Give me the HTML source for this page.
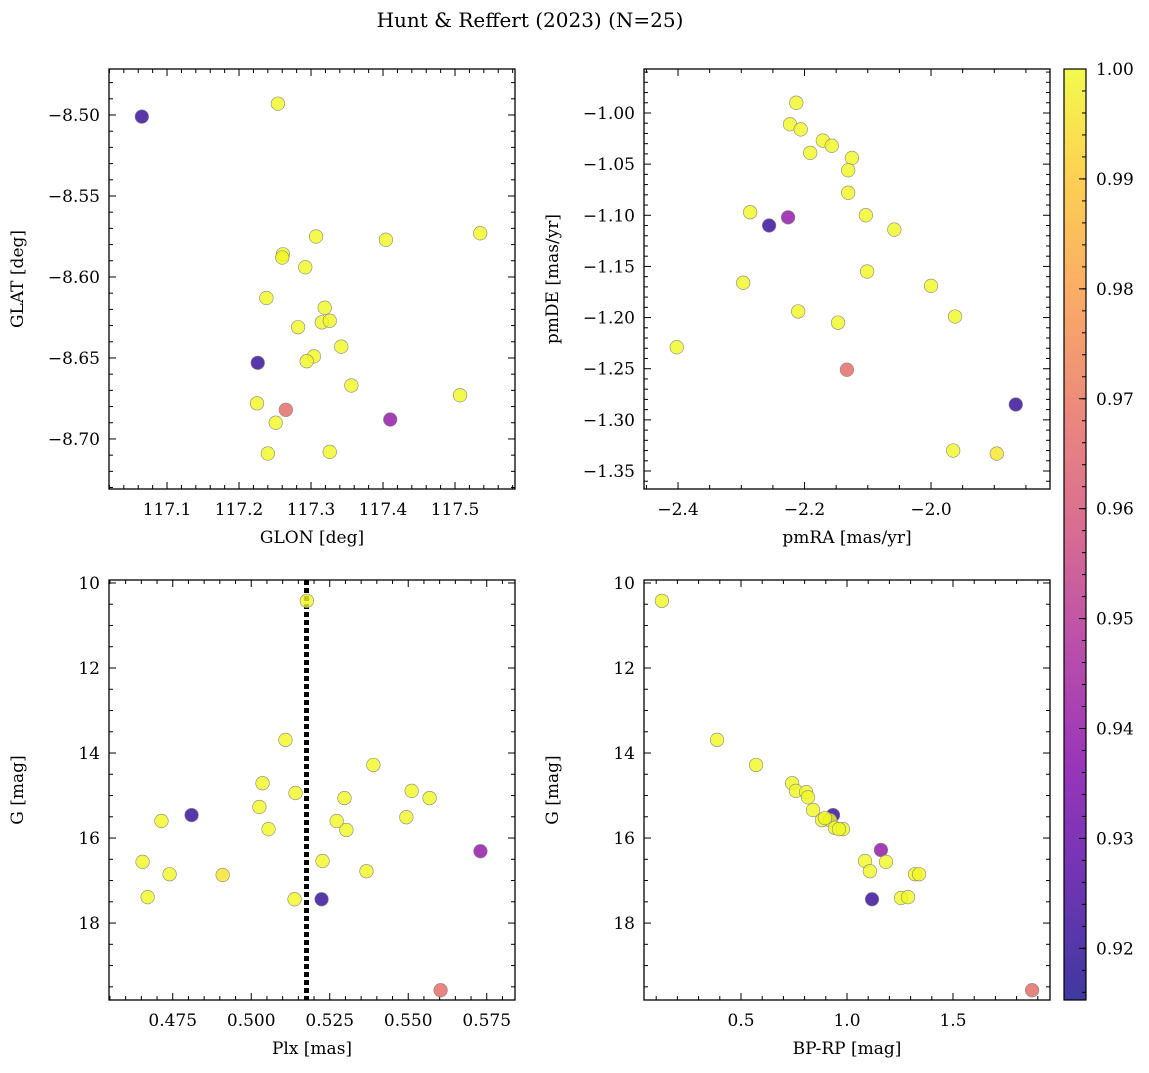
<!DOCTYPE html>
<html><head><meta charset="utf-8">
<style>
html,body{margin:0;padding:0;background:#fff;}
svg text{font-family:"DejaVu Serif","Liberation Serif",serif;fill:#000;}
</style></head>
<body>
<svg id="fig" width="1149" height="1068" xmlns="http://www.w3.org/2000/svg">
<defs>
<linearGradient id="plasma" x1="0" y1="1" x2="0" y2="0">
<stop offset="0" stop-color="#0d0887"/><stop offset="0.13" stop-color="#4c02a1"/>
<stop offset="0.25" stop-color="#7e03a8"/><stop offset="0.38" stop-color="#a92395"/>
<stop offset="0.5" stop-color="#cc4778"/><stop offset="0.63" stop-color="#e56b5d"/>
<stop offset="0.75" stop-color="#f89441"/><stop offset="0.88" stop-color="#fdc328"/>
<stop offset="1" stop-color="#f0f921"/>
</linearGradient>
</defs>
<text x="530" y="27" font-size="20" text-anchor="middle">Hunt &amp; Reffert (2023) (N=25)</text>
</svg>
<script>
// ---- data ----
const tlGlon=[117.065,117.254,117.307,117.404,117.535,117.261,117.260,117.292,117.238,117.319,117.282,117.315,117.326,117.342,117.304,117.294,117.226,117.356,117.507,117.225,117.265,117.410,117.251,117.240,117.326];
const tlGlat=[-8.501,-8.493,-8.575,-8.577,-8.573,-8.586,-8.588,-8.594,-8.613,-8.619,-8.631,-8.628,-8.627,-8.643,-8.649,-8.652,-8.653,-8.667,-8.673,-8.678,-8.682,-8.688,-8.690,-8.709,-8.708];
const tlProb=[0.921,1,1,1,1,1,1,1,1,1,1,1,1,1,1,1,0.921,1,1,1,0.967,0.94,1,1,1];
const trPmra=[-2.213,-2.223,-2.206,-2.171,-2.157,-2.191,-2.125,-2.131,-2.131,-2.286,-2.226,-2.103,-2.256,-2.058,-2.101,-2.297,-2.0,-2.210,-1.962,-2.147,-2.402,-2.133,-1.866,-1.965,-1.896];
const trPmde=[-0.990,-1.011,-1.016,-1.027,-1.032,-1.039,-1.044,-1.056,-1.078,-1.097,-1.102,-1.100,-1.110,-1.114,-1.155,-1.166,-1.169,-1.194,-1.199,-1.205,-1.229,-1.251,-1.285,-1.330,-1.333];
const trProb=[1,1,1,1,1,1,1,1,1,1,0.94,1,0.921,1,1,1,1,1,1,1,1,0.967,0.921,1,0.996];
const blPlx=[0.5177,0.5109,0.5389,0.5036,0.5511,0.5141,0.5297,0.5568,0.5026,0.4810,0.5494,0.4714,0.5272,0.5055,0.5303,0.5730,0.4654,0.5227,0.5367,0.4740,0.4909,0.4670,0.5138,0.5224,0.5603];
const blG=[10.42,13.69,14.28,14.71,14.89,14.94,15.06,15.06,15.27,15.46,15.51,15.60,15.60,15.79,15.81,16.31,16.56,16.54,16.78,16.85,16.87,17.39,17.44,17.44,19.58];
const blProb=[1,1,1,1,1,1,1,1,1,0.921,1,1,1,1,1,0.94,1,1,1,1,0.996,1,1,0.921,0.967];
const brBprp=[0.127,0.387,0.571,0.934,0.741,0.759,0.807,0.816,0.840,0.882,0.920,0.943,0.981,1.160,1.085,1.184,1.108,1.321,1.340,1.255,1.288,1.118,1.873,0.896,0.962];
const brG=[10.42,13.69,14.28,15.46,14.71,14.89,14.92,15.04,15.34,15.58,15.58,15.76,15.79,16.28,16.54,16.56,16.78,16.85,16.85,17.41,17.39,17.44,19.58,15.53,15.79];
const brProb=[1,1,1,0.921,1,1,1,1,1,1,1,1,1,0.94,1,1,1,1,1,1,1,0.921,0.967,1,1];
const plxLine=0.5176;
const cbTicks=[0.92,0.93,0.94,0.95,0.96,0.97,0.98,0.99,1.00];

const NS="http://www.w3.org/2000/svg";
const svg=document.getElementById('fig');
function mk(tag,attrs,parent){const e=document.createElementNS(NS,tag);for(const k in attrs)e.setAttribute(k,attrs[k]);(parent||svg).appendChild(e);return e;}
const stops=[[13,8,135],[76,2,161],[126,3,168],[169,35,149],[204,71,120],[229,107,93],[248,148,65],[253,195,40],[240,249,33]];
const cmin=0.9153,cmax=1.0;
function cmap(v){let t=(v-cmin)/(cmax-cmin);t=Math.max(0,Math.min(1,t));const f=t*8,i=Math.min(7,Math.floor(f)),r=f-i;const a=stops[i],b=stops[i+1];return `rgb(${a.map((c,j)=>Math.round(c+(b[j]-c)*r)).join(',')})`;}

function panel(o){
  const g=mk('g',{});
  
  
  const sx=v=>o.x0+(v-o.xmin)/(o.xmax-o.xmin)*(o.x1-o.x0);
  const sy=v=>o.inv? o.y0+(v-o.ymin)/(o.ymax-o.ymin)*(o.y1-o.y0) : o.y1-(v-o.ymin)/(o.ymax-o.ymin)*(o.y1-o.y0);
  const tk=mk('g',{stroke:'#000','stroke-width':1},g);
  const eps=1e-9;
  for(let v=Math.ceil(o.xmin/o.xminor-eps)*o.xminor;v<=o.xmax+eps;v+=o.xminor){
    const x=sx(v);const maj=Math.abs(v/o.xmajor-Math.round(v/o.xmajor))<1e-4;const L=maj?7:4;
    mk('line',{x1:x,x2:x,y1:o.y1,y2:o.y1-L},tk);mk('line',{x1:x,x2:x,y1:o.y0,y2:o.y0+L},tk);
    if(maj){const t=mk('text',{x:x,y:o.y1+26,'font-size':17,'text-anchor':'middle'},g);t.textContent=o.xfmt(v);
      }
  }
  for(let v=Math.ceil(o.ymin/o.yminor-eps)*o.yminor;v<=o.ymax+eps;v+=o.yminor){
    const y=sy(v);const maj=Math.abs(v/o.ymajor-Math.round(v/o.ymajor))<1e-4;const L=maj?7:4;
    mk('line',{x1:o.x0,x2:o.x0+L,y1:y,y2:y},tk);mk('line',{x1:o.x1,x2:o.x1-L,y1:y,y2:y},tk);
    if(maj){const t=mk('text',{x:o.x0-9,y:y+6,'font-size':17,'text-anchor':'end'},g);t.textContent=o.yfmt(v);
      }
  }
  if(o.vline!==undefined){const l=mk('line',{x1:sx(o.vline),x2:sx(o.vline),y1:o.y0,y2:o.y1,stroke:'#000','stroke-width':5,'stroke-dasharray':'5,3'},g);
    }
  for(let i=0;i<o.xs.length;i++){
    const c=mk('circle',{cx:sx(o.xs[i]),cy:sy(o.ys[i]),r:6.8,fill:cmap(o.cs[i]),stroke:'#888','stroke-width':0.6,'fill-opacity':0.8},g);
    
    
  }
  const fr=mk('rect',{x:o.x0,y:o.y0,width:o.x1-o.x0,height:o.y1-o.y0,fill:'none',stroke:'#000','stroke-width':1.3},g);
  
  const xl=mk('text',{x:(o.x0+o.x1)/2,y:o.y1+54,'font-size':17,'text-anchor':'middle'},g);xl.textContent=o.xlabel;
  
  const cy=(o.y0+o.y1)/2,cx=o.x0-86;
  const yl=mk('text',{x:cx,y:cy,'font-size':17,'text-anchor':'middle',transform:`rotate(-90 ${cx} ${cy})`},g);yl.textContent=o.ylabel;
  
}
const f1=v=>v.toFixed(1),f2=v=>(v<0?'\u2212':'')+Math.abs(v).toFixed(2),f3=v=>v.toFixed(3),f0=v=>Math.round(v).toString();
const f1m=v=>(v<0?'\u2212':'')+Math.abs(v).toFixed(1);
panel({name:'glon-glat-panel',x0:109,x1:515,y0:69,y1:489,xmin:117.0194,xmax:117.5833,ymin:-8.7309,ymax:-8.4716,xmajor:0.1,xminor:0.02,ymajor:0.05,yminor:0.01,xfmt:f1,yfmt:f2,xs:tlGlon,ys:tlGlat,cs:tlProb,xlabel:'GLON [deg]',ylabel:'GLAT [deg]'});
panel({name:'proper-motion-panel',x0:644,x1:1050,y0:69,y1:489,xmin:-2.4538,xmax:-1.8119,ymin:-1.3676,ymax:-0.957,xmajor:0.2,xminor:0.05,ymajor:0.05,yminor:0.01,xfmt:f1m,yfmt:f2,xs:trPmra,ys:trPmde,cs:trProb,xlabel:'pmRA [mas/yr]',ylabel:'pmDE [mas/yr]'});
panel({name:'parallax-mag-panel',x0:109,x1:515,y0:580,y1:1000,xmin:0.4547,xmax:0.5840,ymin:9.93,ymax:19.81,inv:true,xmajor:0.025,xminor:0.005,ymajor:2,yminor:0.5,xfmt:f3,yfmt:f0,xs:blPlx,ys:blG,cs:blProb,xlabel:'Plx [mas]',ylabel:'G [mag]',vline:plxLine});
panel({name:'cmd-panel',x0:644,x1:1050,y0:580,y1:1000,xmin:0.0425,xmax:1.9575,ymin:9.93,ymax:19.81,inv:true,xmajor:0.5,xminor:0.1,ymajor:2,yminor:0.5,xfmt:f1,yfmt:f0,xs:brBprp,ys:brG,cs:brProb,xlabel:'BP-RP [mag]',ylabel:'G [mag]'});
const cb=mk('g',{});


mk('rect',{x:1064,y:69,width:22,height:931,fill:'url(#plasma)','fill-opacity':0.8},cb);
mk('rect',{x:1064,y:69,width:22,height:931,fill:'none',stroke:'#000','stroke-width':1.2},cb);
const cby=v=>1000-(v-cmin)/(cmax-cmin)*931;
for(let v=0.916;v<=1.0001;v+=0.002){const y=cby(v);mk('line',{x1:1086,x2:1082,y1:y,y2:y,stroke:'#000'},cb);}
cbTicks.forEach(v=>{const y=cby(v);mk('line',{x1:1086,x2:1079,y1:y,y2:y,stroke:'#000'},cb);
  const t=mk('text',{x:1096,y:y+6,'font-size':17},cb);t.textContent=v.toFixed(2);
  });
</script>
</body></html>
